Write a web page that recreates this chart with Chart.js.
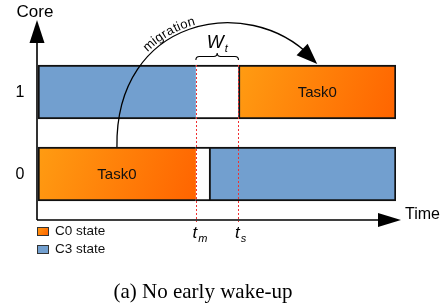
<!DOCTYPE html>
<html>
<head>
<meta charset="utf-8">
<script src="https://cdn.jsdelivr.net/npm/chart.js@4.4.1/dist/chart.umd.min.js"></script>
<style>
  html, body { margin: 0; padding: 0; background: #fff; }
  #wrap { width: 448px; height: 307px; position: relative; }
</style>
</head>
<body>
<div id="wrap"><canvas id="chart"></canvas></div>
<script>
// cores, top row first
const coreLabels = ['1', '0'];
// [start, end] of each state per core, in time units
const c0State = [[56, 100], [0, 44.1]];
const c3State = [[0, 44.1], [47.8, 100]];
const idleGap = [[44.1, 56], [44.1, 47.8]];
const tm = 44.1;   // migration time
const ts = 56;     // task start on core 1
const timeRange = [0, 100];
const taskName = 'Task0';
const legendNames = ['C0 state', 'C3 state'];

const SANS = '"Liberation Sans", Arial, sans-serif';
const SERIF = '"Liberation Serif", "Times New Roman", serif';
const BLUE = '#729fcf';

function orangeFill(ctx) {
  const chart = ctx.chart;
  if (!chart.chartArea || ctx.type !== 'data') return '#ff8200';
  const x0 = chart.scales.x.getPixelForValue(ctx.raw[0]);
  const x1 = chart.scales.x.getPixelForValue(ctx.raw[1]);
  const y = chart.scales.y.getPixelForValue(ctx.dataIndex);
  const g = chart.ctx.createLinearGradient(x0, y - 27, x1, y + 27);
  g.addColorStop(0, '#ff9c12');
  g.addColorStop(1, '#ff6400');
  return g;
}

// no black edge where the segment touches the migration point
function edges(ctx) {
  if (ctx.type !== 'data') return 2;
  const [s, e] = ctx.raw;
  return { top: 2, bottom: 2, left: s === tm ? 0 : 2, right: e === tm ? 0 : 2 };
}

function bez(p, t) {
  const u = 1 - t;
  return {
    x: u*u*u*p[0].x + 3*u*u*t*p[1].x + 3*u*t*t*p[2].x + t*t*t*p[3].x,
    y: u*u*u*p[0].y + 3*u*u*t*p[1].y + 3*u*t*t*p[2].y + t*t*t*p[3].y
  };
}

function arrowHead(ctx, tipX, tipY, ang, len, half) {
  ctx.beginPath();
  ctx.moveTo(tipX, tipY);
  ctx.lineTo(tipX - len*Math.cos(ang) - half*Math.sin(ang), tipY - len*Math.sin(ang) + half*Math.cos(ang));
  ctx.lineTo(tipX - len*Math.cos(ang) + half*Math.sin(ang), tipY - len*Math.sin(ang) - half*Math.cos(ang));
  ctx.closePath();
  ctx.fill();
}

function subText(ctx, main, sub, x, y, size) {
  ctx.font = 'italic ' + size + 'px ' + SANS;
  ctx.textAlign = 'left';
  ctx.textBaseline = 'alphabetic';
  const w = ctx.measureText(main).width;
  ctx.fillText(main, x - w/2, y);
  ctx.font = 'italic ' + Math.round(size*0.62) + 'px ' + SANS;
  ctx.fillText(sub, x + w/2 + 1, y + 4);
}

const decorations = {
  id: 'decorations',
  afterDatasetsDraw(chart) {
    const ctx = chart.ctx;
    const xs = chart.scales.x, ys = chart.scales.y;
    const area = chart.chartArea;
    const half = 27;
    ctx.save();

    // task names on the C0 segments
    ctx.fillStyle = '#111';
    ctx.font = '15px ' + SANS;
    ctx.textAlign = 'center';
    ctx.textBaseline = 'middle';
    c0State.forEach((r, i) => {
      ctx.fillText(taskName, (xs.getPixelForValue(r[0]) + xs.getPixelForValue(r[1])) / 2, ys.getPixelForValue(i) + 1);
    });

    // dotted markers at t_m and t_s
    ctx.strokeStyle = '#f03030';
    ctx.lineWidth = 1;
    ctx.setLineDash([2, 2]);
    [tm, ts].forEach(v => {
      const x = Math.round(xs.getPixelForValue(v)) + 0.5;
      ctx.beginPath();
      ctx.moveTo(x, ys.getPixelForValue(0) - half);
      ctx.lineTo(x, area.bottom + 7);
      ctx.stroke();
    });
    ctx.setLineDash([]);

    // axes with arrow heads
    const ax = area.left - 1;
    const ay = area.bottom + 5;
    ctx.strokeStyle = '#000';
    ctx.fillStyle = '#000';
    ctx.lineWidth = 1.6;
    ctx.beginPath();
    ctx.moveTo(ax, ay);
    ctx.lineTo(ax, 40);
    ctx.moveTo(ax, ay);
    ctx.lineTo(382, ay);
    ctx.stroke();
    arrowHead(ctx, ax, 20, -Math.PI/2, 23, 7.5);
    arrowHead(ctx, 401, ay, 0, 23, 7);

    ctx.font = '17px ' + SANS;
    ctx.textAlign = 'center';
    ctx.textBaseline = 'middle';
    ctx.fillText('Core', 35, 12);
    ctx.font = '16px ' + SANS;
    ctx.textAlign = 'left';
    ctx.fillText('Time', 405, 215);
    ctx.textAlign = 'center';
    coreLabels.forEach((c, i) => ctx.fillText(c, 20, ys.getPixelForValue(i) + 1));

    // t_m, t_s
    subText(ctx, 't', 'm', xs.getPixelForValue(tm) - 1, 238, 17);
    subText(ctx, 't', 's', xs.getPixelForValue(ts) - 1, 238, 17);

    // brace over the waiting window W_t
    const bx0 = xs.getPixelForValue(tm), bx1 = xs.getPixelForValue(ts);
    const bm = (bx0 + bx1) / 2, by = 60, r = 3.5;
    ctx.lineWidth = 1.1;
    ctx.beginPath();
    ctx.moveTo(bx0, by);
    ctx.quadraticCurveTo(bx0, by - r, bx0 + r, by - r);
    ctx.lineTo(bm - r, by - r);
    ctx.quadraticCurveTo(bm, by - r, bm, by - 2*r);
    ctx.quadraticCurveTo(bm, by - r, bm + r, by - r);
    ctx.lineTo(bx1 - r, by - r);
    ctx.quadraticCurveTo(bx1, by - r, bx1, by);
    ctx.stroke();
    subText(ctx, 'W', 't', bm - 2, 48, 18);

    // migration curve from Task0 on core 0 to Task0 on core 1
    const sx = (xs.getPixelForValue(c0State[1][0]) + xs.getPixelForValue(c0State[1][1])) / 2;
    const ex = (xs.getPixelForValue(c0State[0][0]) + xs.getPixelForValue(c0State[0][1])) / 2;
    const sy = ys.getPixelForValue(1) - half;
    const ey = ys.getPixelForValue(0) - half - 1;
    const P = [{x: sx, y: sy}, {x: sx - 2, y: 18}, {x: ex - 70, y: -8}, {x: ex, y: ey}];
    ctx.lineWidth = 1.3;
    ctx.beginPath();
    ctx.moveTo(P[0].x, P[0].y);
    ctx.bezierCurveTo(P[1].x, P[1].y, P[2].x, P[2].y, P[3].x - 6, P[3].y - 7);
    ctx.stroke();
    const pe = bez(P, 0.97);
    arrowHead(ctx, P[3].x, P[3].y, Math.atan2(P[3].y - pe.y, P[3].x - pe.x), 21, 8);

    // label written along the curve
    const pts = [];
    let len = 0;
    for (let i = 0; i <= 400; i++) {
      const p = bez(P, i / 400);
      if (i) len += Math.hypot(p.x - pts[i-1].x, p.y - pts[i-1].y);
      pts.push({x: p.x, y: p.y, s: len});
    }
    const at = s => {
      let k = pts.findIndex(q => q.s >= s);
      if (k < 1) k = 1;
      return {x: pts[k].x, y: pts[k].y, a: Math.atan2(pts[k].y - pts[k-1].y, pts[k].x - pts[k-1].x)};
    };
    let s = pts.find(q => q.x >= 149).s;
    ctx.font = '13px ' + SANS;
    ctx.textAlign = 'center';
    ctx.textBaseline = 'alphabetic';
    for (const ch of 'migration') {
      const w = ctx.measureText(ch).width;
      const p = at(s + w/2);
      ctx.save();
      ctx.translate(p.x, p.y);
      ctx.rotate(p.a);
      ctx.fillText(ch, 0, -3.5);
      ctx.restore();
      s += w + 0.2;
    }

    // legend
    ctx.lineWidth = 1;
    ctx.textAlign = 'left';
    ctx.textBaseline = 'middle';
    ctx.font = '13.5px ' + SANS;
    legendNames.forEach((name, i) => {
      const y = 227 + i * 18;
      if (i === 0) {
        const g = ctx.createLinearGradient(37, y, 48, y + 8);
        g.addColorStop(0, '#ff9c12');
        g.addColorStop(1, '#ff6400');
        ctx.fillStyle = g;
      } else ctx.fillStyle = BLUE;
      ctx.fillRect(37.5, y + 0.5, 11, 8);
      ctx.strokeStyle = '#333';
      ctx.strokeRect(37.5, y + 0.5, 11, 8);
      ctx.fillStyle = '#111';
      ctx.fillText(name, 55, y + 4.5);
    });

    // caption
    ctx.font = '21px ' + SERIF;
    ctx.textAlign = 'center';
    ctx.fillStyle = '#000';
    ctx.fillText('(a) No early wake-up', 203, 292);
    ctx.restore();
  }
};

new Chart(document.getElementById('chart'), {
  type: 'bar',
  data: {
    labels: coreLabels,
    datasets: [
      { label: legendNames[1], data: c3State, backgroundColor: BLUE },
      { label: legendNames[0], data: c0State, backgroundColor: orangeFill },
      { label: 'idle', data: idleGap, backgroundColor: '#fff',
        borderWidth: { top: 2, bottom: 2, left: 0, right: 0 } }
    ]
  },
  options: {
    indexAxis: 'y',
    responsive: true,
    maintainAspectRatio: false,
    animation: false,
    layout: { padding: { left: 38, right: 52, top: 51, bottom: 92 } },
    datasets: {
      bar: {
        grouped: false,
        barThickness: 54,
        borderColor: '#111',
        borderWidth: edges,
        borderSkipped: false
      }
    },
    scales: {
      x: { display: false, min: timeRange[0], max: timeRange[1] },
      y: { display: false }
    },
    plugins: { legend: { display: false }, tooltip: { enabled: false } }
  },
  plugins: [decorations]
});
</script>
</body>
</html>
